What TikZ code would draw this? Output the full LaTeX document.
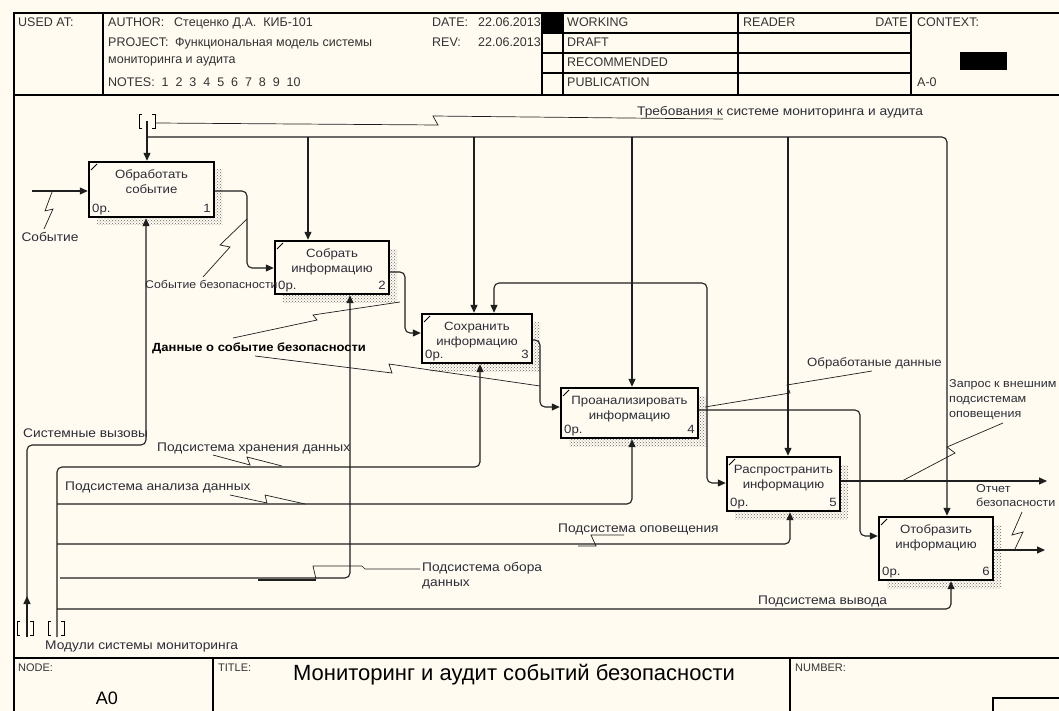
\documentclass[tikz,border=0pt]{standalone}
\usepackage{fontspec}
\setmainfont{Liberation Sans}
\newfontfamily\lblfont{Liberation Sans}[FakeStretch=1.1]
\usetikzlibrary{arrows.meta,patterns}
\definecolor{bg}{RGB}{255,251,241}
\definecolor{ln}{RGB}{30,30,30}
\definecolor{tx}{RGB}{45,45,55}
\newcommand\fs[1]{\fontsize{#1}{#1}\selectfont}
\newcommand\fsl[2]{\fontsize{#1}{#2}\selectfont}
\newcommand\idefbox[8]{%
  \fill[pattern=crosshatch dots, pattern color=black!60] ({#4},{#3+8}) rectangle ({#4+8},{#5+8});
  \fill[pattern=crosshatch dots, pattern color=black!60] ({#2+8},{#5}) rectangle ({#4},{#5+8});
  \node[boxst, minimum width={(#4-#2)*1pt}, minimum height={(#5-#3)*1pt}] (#1) at ({(#2+#4)/2},{(#3+#5)/2}) {};
  \draw[line width=0.8pt] ({#2+2},{#3+8}) -- ({#2+8},{#3+2});
  \node[boxtxt] at ({(#2+#4)/2},{#3+13}) {#6};
  \node[boxtxt] at ({(#2+#4)/2},{#3+28}) {#7};
  \node[boxtxt, anchor=west] at ({#2+3},{#5-8}) {0р.};
  \node[boxtxt, anchor=east] at ({#4-3},{#5-8}) {#8};
}
\newcommand\brk[2]{%
  \draw[line width=0.8pt] ({#1-5},{#2-7}) -- ({#1-8},{#2-7}) -- ({#1-8},{#2+7}) -- ({#1-5},{#2+7});
  \draw[line width=0.8pt] ({#1+5},{#2-7}) -- ({#1+8},{#2-7}) -- ({#1+8},{#2+7}) -- ({#1+5},{#2+7});
}
\begin{document}
\begin{tikzpicture}[x=1pt,y=-1pt, font=\fs{12},
  conn/.style={draw=ln, line width=1.1pt, rounded corners=5pt},
  arr/.style={conn, -{Triangle[length=8pt,width=7pt]}},
  lead/.style={draw=ln, line width=0.7pt},
  lbl/.style={text=tx, inner sep=0pt, font=\lblfont\fs{12.5}, text height=9pt, text depth=2.6pt},
  hdr/.style={text=black!80, inner sep=0pt, anchor=west, font=\fs{12.5}, text height=9pt, text depth=2.6pt},
  boxst/.style={draw=black, line width=2.4pt, fill=bg, inner sep=0pt},
  boxtxt/.style={text=tx, inner sep=0pt, font=\lblfont\fs{12}, text height=8.6pt, text depth=2.5pt}]
\fill[bg] (0,0) rectangle (1059,711);
\useasboundingbox (0,0) rectangle (1059,711);

% frame
\draw[line width=2.6pt] (14,711) -- (14,13) -- (1059,13);
\draw[line width=1.3pt] (14,95) -- (1059,95);
\draw[line width=1.3pt] (14,658) -- (1059,658);
\foreach \x in {103,542,563,738,911} \draw[line width=1.2pt] (\x,13) -- (\x,95);
\foreach \y in {33,53,73} \draw[line width=1.1pt] (542,\y) -- (911,\y);
\fill[black] (542,13) rectangle (563,33);
\fill[black] (960,52) rectangle (1007,70);
\draw[line width=1.2pt] (213,658) -- (213,711);
\draw[line width=1.2pt] (790,658) -- (790,711);
\draw[line width=1.2pt] (993,711) -- (993,698) -- (1059,698);

% header text
\node[hdr] (hUsed) at (18,23) {USED AT:};
\node[hdr] (hAuth) at (108,23) {AUTHOR:};
\node[hdr] (hAuthV) at (174,23) {Стеценко Д.А.\ \ КИБ-101};
\node[hdr] (hProj) at (108,43) {PROJECT:};
\node[hdr] (hProjV) at (175,43) {Функциональная модель системы};
\node[hdr] (hProj2) at (108,60) {мониторинга и аудита};
\node[hdr] (hNotes) at (108,83) {NOTES:\ \ 1\ \ 2\ \ 3\ \ 4\ \ 5\ \ 6\ \ 7\ \ 8\ \ 9\ \ 10};
\node[hdr] (hDate) at (432,23) {DATE:};
\node[hdr, anchor=east] (hDateV) at (541,23) {22.06.2013};
\node[hdr] (hRev) at (432,43) {REV:};
\node[hdr, anchor=east] (hRevV) at (541,43) {22.06.2013};
\node[hdr] (hW) at (567,23) {WORKING};
\node[hdr] (hD) at (567,43) {DRAFT};
\node[hdr] (hR) at (567,63) {RECOMMENDED};
\node[hdr] (hP) at (567,83) {PUBLICATION};
\node[hdr] (hRd) at (743,23) {READER};
\node[hdr, anchor=east] (hRdD) at (908,23) {DATE};
\node[hdr] (hCtx) at (917,23) {CONTEXT:};
\node[hdr] (hA0) at (917,83) {A-0};

% footer text
\node[hdr, font=\fs{11}] (fNode) at (18,668) {NODE:};
\node[inner sep=0pt, font=\fs{18}] (fA0) at (107,698) {A0};
\node[hdr, font=\fs{11}] (fTitle) at (218,668) {TITLE:};
\node[inner sep=0pt, font=\fs{22}] (fTitleV) at (514,675) {Мониторинг и аудит событий безопасности};
\node[hdr, font=\fs{11}] (fNum) at (795,668) {NUMBER:};

% boxes
\idefbox{b1}{89}{162}{214}{217}{Обработать}{событие}{1}
\idefbox{b2}{275}{241}{389}{294}{Собрать}{информацию}{2}
\idefbox{b3}{422}{314}{532}{363}{Сохранить}{информацию}{3}
\idefbox{b4}{561}{388}{698}{438}{Проанализировать}{информацию}{4}
\idefbox{b5}{727}{457}{840}{511}{Распространить}{информацию}{5}
\idefbox{b6}{879}{517}{993}{580}{Отобразить}{информацию}{6}

% input
\coordinate (inE) at (32,191);
\draw[arr] (inE) -- (b1.west |- 0,191);
\draw[lead] (44,229) -- (53,209) -- (45,211) -- (52,192);
\node[lbl] (lE) at (50,238) {Событие};

% box to box
\draw[arr] (b1.east |- 0,191) -- (247,191) -- (247,268) -- (b2.west |- 0,268);
\draw[lead] (203,277) -- (230,247) -- (220,245) -- (247,219);
\node[lbl, anchor=west, font=\lblfont\fs{11.2}] (lSB) at (145,285) {Событие безопасности};

\draw[arr] (b2.east |- 0,272) -- (405,272) -- (405,333) -- (b3.west |- 0,333);
\draw[arr] (b3.east |- 0,340) -- (540,340) -- (540,407) -- (b4.west |- 0,407);
\draw[lead] (233,338) -- (317,320) -- (313,315) -- (400,302);
\draw[lead] (255,356) -- (392,373) -- (389,364) -- (540,386);
\node[lbl, anchor=west, text=black, font=\lblfont\fs{11.8}\bfseries] (lDS) at (152,348) {Данные о событие безопасности};

\draw[arr] (b4.east |- 0,410) -- (860,410) -- (860,536) -- (b6.west |- 0,536);
\draw[arr] (707,410) -- (707,283) -- (494,283) -- (b3.north -| 494,0);
\draw[arr] (707,410) -- (707,483) -- (b5.west |- 0,483);
\draw[lead] (705,407) -- (790,393) -- (787,385) -- (872,371);
\node[lbl, anchor=west, font=\lblfont\fs{12}] (lOD) at (807,363) {Обработаные данные};

% outputs
\coordinate (outQ) at (1047,481);
\draw[arr] (b5.east |- 0,481) -- (outQ);
\draw[lead] (902,481) -- (955,453) -- (947,447) -- (1003,423);
\node[lbl, anchor=north west, align=left, font=\lblfont\fsl{11.4}{15}, text height=, text depth=] (lQ) at (949,379) {Запрос к внешним\\подсистемам\\оповещения};
\coordinate (outR) at (1045,550);
\draw[arr] (b6.east |- 0,550) -- (outR);
\draw[lead] (1022,512) -- (1012,535) -- (1023,532) -- (1014,551);
\node[lbl, anchor=north west, align=left, font=\lblfont\fsl{11.4}{14}, text height=, text depth=] (lR) at (976,484) {Отчет\\безопасности};

% control
\coordinate (ctl) at (147,121);
\brk{147}{121}
\draw[arr] (ctl) -- (b1.north -| 147,0);
\draw[arr] (147,137) -- (947,137) -- (b6.north -| 947,0);
\draw[arr] (308,137) -- (b2.north -| 308,0);
\draw[arr] (474,137) -- (b3.north -| 474,0);
\draw[arr] (632,137) -- (b4.north -| 632,0);
\draw[arr] (788,137) -- (b5.north -| 788,0);
\draw[lead] (156,123) -- (438,125) -- (433,116) -- (723,119);
\node[lbl, anchor=west] (lT) at (637,112) {Требования к системе мониторинга и аудита};

% mechanisms
\coordinate (mSys) at (27,628);
\brk{25}{628}
\draw[arr] (27,637) -- (27,596);
\draw[arr] (27,600) -- (27,445) -- (146,445) -- (b1.south -| 146,0);
\node[lbl, anchor=west] (lSys) at (23,434) {Системные вызовы};

\coordinate (mMod) at (57,628);
\brk{56}{628}
\draw[arr] (57,637) -- (57,467) -- (480,467) -- (b3.south -| 480,0);
\draw[lead] (213,455) -- (250,465) -- (247,457) -- (282,466);
\node[lbl, anchor=west] (lHr) at (157,448) {Подсистема хранения данных};

\draw[arr] (57,504) -- (632,504) -- (b4.south -| 632,0);
\draw[lead] (230,495) -- (267,503) -- (265,495) -- (305,504);
\node[lbl, anchor=west] (lAn) at (65,487) {Подсистема анализа данных};

\draw[arr] (57,544) -- (790,544) -- (b5.south -| 790,0);
\draw[lead] (578,546) -- (596,546) -- (591,535) -- (624,535);
\node[lbl, anchor=west] (lOp) at (558,529) {Подсистема оповещения};

\draw[arr] (60,578) -- (350,578) -- (b2.south -| 350,0);
\draw[lead] (420,569) -- (365,569) -- (362,566) -- (313,566) -- (316,579);
\draw[draw=ln, line width=2pt] (258,580) -- (316,580);
\node[lbl, anchor=north west, align=left, font=\lblfont\fsl{12.5}{15}, text height=, text depth=] (lSb) at (422,562) {Подсистема обора\\данных};

\draw[arr] (57,609) -- (951,609) -- (b6.south -| 951,0);
\node[lbl, anchor=west] (lVy) at (758,601) {Подсистема вывода};
\node[lbl, anchor=west] (lMod) at (45,646) {Модули системы мониторинга};
\end{tikzpicture}
\end{document}
